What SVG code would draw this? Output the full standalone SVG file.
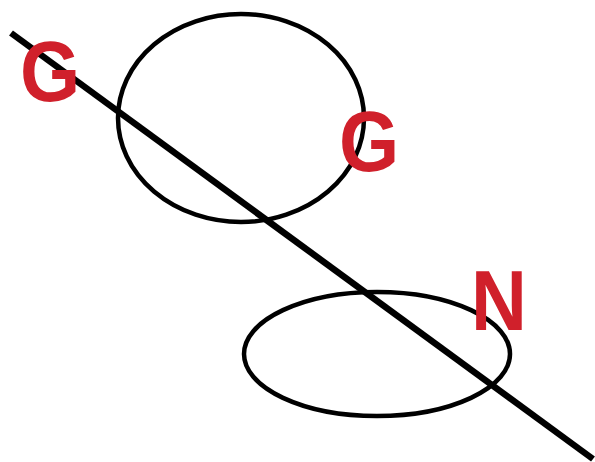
<svg xmlns="http://www.w3.org/2000/svg" width="595" height="462" viewBox="0 0 595 462">
<style>
.shape{fill:none;stroke:#000;stroke-width:4.5}
.lbl{font-family:"Liberation Sans",Arial,sans-serif;font-weight:bold;font-size:86px;fill:#d0202b}
</style>
<rect width="595" height="462" fill="#fff"/>
<g id="ellipse-top"><ellipse class="shape" cx="241" cy="118" rx="123" ry="104"/></g>
<g id="ellipse-bottom"><ellipse class="shape" cx="377" cy="354" rx="133" ry="62"/></g>
<g id="connectors"><line x1="11" y1="33" x2="593" y2="459" stroke="#000" stroke-width="6.5"/></g>
<g id="label-g1"><text class="lbl" transform="translate(20,101) scale(0.9,1)">G</text></g>
<g id="label-g2"><text class="lbl" transform="translate(339,171) scale(0.9,1)">G</text></g>
<g id="label-n"><text class="lbl" transform="translate(471,330) scale(0.9,1)">N</text></g>
</svg>
